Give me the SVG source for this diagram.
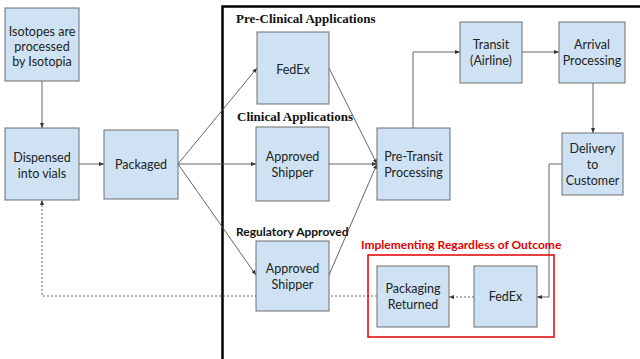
<svg xmlns="http://www.w3.org/2000/svg" width="640" height="359" viewBox="0 0 640 359">
<defs>
<style>
.n{fill:#cfe2f3;stroke:#6f6f6f;stroke-width:1}
.t{font-family:Lato,"Open Sans","Liberation Sans",sans-serif;font-size:12.5px;fill:#222;text-anchor:middle}
.c{fill:none;stroke:#555;stroke-width:0.9}
.d{fill:none;stroke:#555;stroke-width:0.9;stroke-dasharray:2,2}
.h{font-family:"Liberation Serif",serif;font-weight:bold;font-size:13px;fill:#111}
.hs{font-family:Lato,"Liberation Sans",sans-serif;font-weight:bold;font-size:12px;fill:#111}
</style>
<marker id="a" markerWidth="6" markerHeight="6" refX="5" refY="3" orient="auto" markerUnits="userSpaceOnUse"><path d="M0,1 L5,3 L0,5 z" fill="#333"/></marker>
</defs>
<rect width="640" height="359" fill="#fff"/>
<path d="M222.5,359 V6.5 H640" fill="none" stroke="#000" stroke-width="2.5"/>
<g id="connectors">
<path class="c" d="M42,81 V128" marker-end="url(#a)"/>
<path class="c" d="M79,164 H104" marker-end="url(#a)"/>
<path class="c" d="M178,164 L257,68" marker-end="url(#a)"/>
<path class="c" d="M178,164 H256" marker-end="url(#a)"/>
<path class="c" d="M178,164 L256,275" marker-end="url(#a)"/>
<path class="c" d="M329,68 L377,164" marker-end="url(#a)"/>
<path class="c" d="M329,164 H377" marker-end="url(#a)"/>
<path class="c" d="M329,275 L377,164" marker-end="url(#a)"/>
<path class="c" d="M413,128 V52 H460" marker-end="url(#a)"/>
<path class="c" d="M522,52 H559" marker-end="url(#a)"/>
<path class="c" d="M593,83 V133" marker-end="url(#a)"/>
<path class="c" d="M562,164 H549 V297 H537" marker-end="url(#a)"/>
<path class="d" d="M474,297 H449" marker-end="url(#a)"/>
<path class="d" d="M377,296 H42 V200" marker-end="url(#a)"/>
</g>
<text class="h" x="236" y="23">Pre-Clinical Applications</text>
<text class="h" x="237" y="121">Clinical Applications</text>
<text class="hs" x="236" y="236">Regulatory Approved</text>
<rect x="368" y="255" width="186" height="82" fill="none" stroke="#e00000" stroke-width="1.5"/>
<text x="361" y="249" style="font-family:Lato,'Liberation Sans',sans-serif;font-weight:bold;font-size:12px;fill:#e00000">Implementing Regardless of Outcome</text>
<g id="isotopes"><rect class="n" x="5" y="8" width="74" height="73"/><text class="t" x="42" y="36">Isotopes are</text><text class="t" x="42" y="51">processed</text><text class="t" x="42" y="66">by Isotopia</text></g>
<g id="dispensed"><rect class="n" x="5" y="128" width="74" height="72"/><text class="t" x="42" y="162">Dispensed</text><text class="t" x="42" y="178">into vials</text></g>
<g id="packaged"><rect class="n" x="104" y="130" width="74" height="69"/><text class="t" x="141" y="169">Packaged</text></g>
<g id="fedex1"><rect class="n" x="257" y="32" width="72" height="72"/><text class="t" x="293" y="74">FedEx</text></g>
<g id="shipper1"><rect class="n" x="256" y="127" width="73" height="74"/><text class="t" x="292.5" y="161">Approved</text><text class="t" x="292.5" y="177">Shipper</text></g>
<g id="shipper2"><rect class="n" x="256" y="241" width="73" height="70"/><text class="t" x="292.5" y="273">Approved</text><text class="t" x="292.5" y="289">Shipper</text></g>
<g id="pretransit"><rect class="n" x="377" y="128" width="73" height="72"/><text class="t" x="413.5" y="161">Pre-Transit</text><text class="t" x="413.5" y="177">Processing</text></g>
<g id="transit"><rect class="n" x="460" y="22" width="62" height="61"/><text class="t" x="491" y="49">Transit</text><text class="t" x="491" y="65">(Airline)</text></g>
<g id="arrival"><rect class="n" x="559" y="22" width="66" height="61"/><text class="t" x="592" y="49">Arrival</text><text class="t" x="592" y="65">Processing</text></g>
<g id="delivery"><rect class="n" x="562" y="133" width="61" height="62"/><text class="t" x="592.5" y="153">Delivery</text><text class="t" x="592.5" y="169">to</text><text class="t" x="592.5" y="185">Customer</text></g>
<g id="returned"><rect class="n" x="377" y="266" width="72" height="61"/><text class="t" x="413" y="293">Packaging</text><text class="t" x="413" y="309">Returned</text></g>
<g id="fedex2"><rect class="n" x="474" y="266" width="63" height="61"/><text class="t" x="505.5" y="301">FedEx</text></g>
</svg>
